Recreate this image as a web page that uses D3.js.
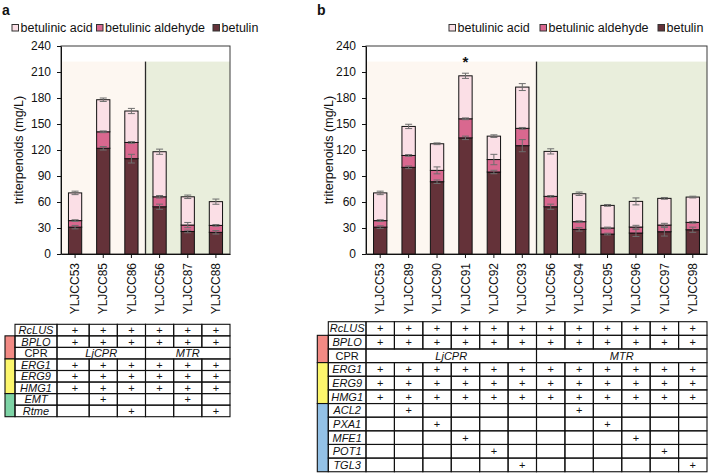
<!DOCTYPE html>
<html>
<head>
<meta charset="utf-8">
<script src="https://cdn.jsdelivr.net/npm/d3@7"></script>
<style>
  html, body { margin: 0; padding: 0; background: #ffffff; }
  svg { display: block; font-family: "Liberation Sans", Arial, sans-serif; }
</style>
</head>
<body>
<svg id="chart" width="709" height="476"></svg>
<script>
// ---------------- DATA ----------------
const seriesNames = ["betulinic acid", "betulinic aldehyde", "betulin"];
const yTicks = [0, 30, 60, 90, 120, 150, 180, 210, 240];
const shadeTop = 222;

// Panel a
const catsA = ["YLJCC53", "YLJCC85", "YLJCC86", "YLJCC56", "YLJCC87", "YLJCC88"];
const betulinA  = [31, 122, 110, 54.5, 26, 25];
const aldehydeA = [7.5, 19, 18.7, 11.5, 7.4, 8];
const acidA     = [32, 37, 36.3, 52, 32.6, 27.4];
const errBetulinA  = [2, 2, 5, 3, 1.5, 2];
const errAldehydeA = [1, 1, 1, 1.5, 3, 1];
const errAcidA     = [2, 2, 3, 3, 2, 3];
const groupSplitA = 3;

// Panel b
const catsB = ["YLJCC53", "YLJCC89", "YLJCC90", "YLJCC91", "YLJCC92", "YLJCC93",
               "YLJCC56", "YLJCC94", "YLJCC95", "YLJCC96", "YLJCC97", "YLJCC98"];
const betulinB  = [31, 100, 83.4, 134, 94.6, 125, 54.5, 28.4, 23, 24.2, 25.7, 28];
const aldehydeB = [7.5, 13.7, 13.1, 22, 14.4, 20, 12, 8.9, 7, 6.9, 7.7, 8.5];
const acidB     = [32, 33.5, 30.7, 49.6, 27, 47.6, 51.9, 32.2, 26.1, 29.6, 30.8, 29.2];
const errBetulinB  = [1.5, 1.5, 2, 2, 2, 7, 3, 2, 1, 4, 5, 3];
const errAldehydeB = [1, 1, 4, 1, 6, 1, 1, 1, 1, 2, 2, 1];
const errAcidB     = [2, 2.5, 1, 3, 1.5, 4, 3, 2, 1, 4, 1, 1];
const groupSplitB = 6;
const starIndexB = 3;

// Tables
const rowsA = ["RcLUS", "BPLO", "CPR", "ERG1", "ERG9", "HMG1", "EMT", "Rtme"];
const plusA = [
  [1,1,1,1,1,1],
  [1,1,1,1,1,1],
  null,
  [1,1,1,1,1,1],
  [1,1,1,1,1,1],
  [1,1,1,1,1,1],
  [0,1,0,0,1,0],
  [0,0,1,0,0,1]
];
const rowsB = ["RcLUS", "BPLO", "CPR", "ERG1", "ERG9", "HMG1", "ACL2", "PXA1", "MFE1", "POT1", "TGL3"];
const plusB = [
  [1,1,1,1,1,1,1,1,1,1,1,1],
  [1,1,1,1,1,1,1,1,1,1,1,1],
  null,
  [1,1,1,1,1,1,1,1,1,1,1,1],
  [1,1,1,1,1,1,1,1,1,1,1,1],
  [1,1,1,1,1,1,1,1,1,1,1,1],
  [0,1,0,0,0,0,0,1,0,0,0,0],
  [0,0,1,0,0,0,0,0,1,0,0,0],
  [0,0,0,1,0,0,0,0,0,1,0,0],
  [0,0,0,0,1,0,0,0,0,0,1,0],
  [0,0,0,0,0,1,0,0,0,0,0,1]
];
const cprLabels = ["LjCPR", "MTR"];
const stripRowsA = [[1, 2], [3, 5], [6, 7]];
const stripRowsB = [[1, 2], [3, 5], [6, 10]];

// ---------------- STYLE ----------------
const seriesColors = { acid: "#fbdfe6", ald: "#d9688f", bet: "#643239" };
const shadeColors = ["#fdf7f1", "#e9eedc"];
const stripColorsA = ["#f28a84", "#fcf66c", "#7dd3a5"];
const stripColorsB = ["#f28a84", "#fcf66c", "#93c1e6"];
const errColor = "#6e6e6e";

const svg = d3.select("#chart");
const y = d3.scaleLinear().domain([0, 240]).range([254, 46]);

function drawPanel(cfg) {
  const g = svg.append("g");
  const x = d3.scaleBand().domain(cfg.cats).range([cfg.x0, cfg.x1]).padding(0);
  const bw = x.bandwidth() * 0.47;
  const splitX = x(cfg.cats[cfg.split]);

  // backgrounds
  g.append("rect").attr("x", cfg.x0).attr("y", y(shadeTop))
    .attr("width", splitX - cfg.x0).attr("height", y(0) - y(shadeTop)).attr("fill", shadeColors[0]);
  g.append("rect").attr("x", splitX).attr("y", y(shadeTop))
    .attr("width", cfg.x1 - splitX).attr("height", y(0) - y(shadeTop)).attr("fill", shadeColors[1]);
  // frame
  g.append("rect").attr("x", cfg.x0).attr("y", y(240))
    .attr("width", cfg.x1 - cfg.x0).attr("height", y(0) - y(240))
    .attr("fill", "none").attr("stroke", "#3a3a3a").attr("stroke-width", 1);
  // divider
  g.append("line").attr("x1", splitX).attr("x2", splitX)
    .attr("y1", y(shadeTop)).attr("y2", y(0)).attr("stroke", "#2a2a2a").attr("stroke-width", 1.3);

  // stacked data
  const rows = cfg.cats.map((c, i) => ({
    cat: c, bet: cfg.bet[i], ald: cfg.ald[i], acid: cfg.acid[i],
    eBet: cfg.eBet[i], eAld: cfg.eAld[i], eAcid: cfg.eAcid[i]
  }));
  const stack = d3.stack().keys(["bet", "ald", "acid"])(rows);
  stack.forEach(layer => {
    g.append("g").selectAll("rect").data(layer).enter().append("rect")
      .attr("x", d => x(d.data.cat) + (x.bandwidth() - bw) / 2)
      .attr("y", d => y(d[1]))
      .attr("width", bw)
      .attr("height", d => y(d[0]) - y(d[1]))
      .attr("fill", seriesColors[layer.key])
      .attr("stroke", "#111").attr("stroke-width", 1);
  });
  // error bars
  const errKey = { bet: "eBet", ald: "eAld", acid: "eAcid" };
  stack.forEach(layer => {
    const eg = g.append("g").attr("stroke", errColor).attr("stroke-width", 1);
    layer.forEach(d => {
      const cx = x(d.data.cat) + x.bandwidth() / 2;
      const e = d.data[errKey[layer.key]];
      const top = d[1];
      eg.append("line").attr("x1", cx).attr("x2", cx).attr("y1", y(top + e)).attr("y2", y(top - e));
      eg.append("line").attr("x1", cx - 3.5).attr("x2", cx + 3.5).attr("y1", y(top + e)).attr("y2", y(top + e));
      eg.append("line").attr("x1", cx - 3.5).attr("x2", cx + 3.5).attr("y1", y(top - e)).attr("y2", y(top - e));
    });
  });

  // axes
  const ya = g.append("g").attr("transform", `translate(${cfg.x0},0)`)
    .call(d3.axisLeft(y).tickValues(yTicks).tickSize(4).tickSizeOuter(0).tickPadding(6));
  ya.selectAll("text").attr("font-size", 12).attr("fill", "#111")
    .attr("font-family", "Liberation Sans, Arial, sans-serif");
  ya.selectAll("line,path").attr("stroke", "#111");

  const xa = g.append("g").attr("transform", `translate(0,${y(0)})`)
    .call(d3.axisBottom(x).tickSize(4).tickSizeOuter(0));
  xa.selectAll("text").attr("transform", "rotate(-90)")
    .attr("x", -9).attr("y", 0).attr("dy", "0.35em")
    .style("text-anchor", "end").attr("font-size", 12).attr("fill", "#111")
    .attr("font-family", "Liberation Sans, Arial, sans-serif");
  xa.selectAll("line,path").attr("stroke", "#111");

  // y title
  g.append("text").attr("transform", `translate(${cfg.titleX},${(y(0) + y(240)) / 2}) rotate(-90)`)
    .attr("text-anchor", "middle").attr("dy", "0.35em")
    .attr("font-size", 12.5).attr("fill", "#111").text("triterpenoids (mg/L)");

  // panel label
  g.append("text").attr("x", cfg.labelX).attr("y", 15).attr("font-size", 14)
    .attr("font-weight", "bold").attr("fill", "#111").text(cfg.label);

  // legend
  const keys = ["acid", "ald", "bet"];
  cfg.legendX.forEach((lx, i) => {
    g.append("rect").attr("x", lx).attr("y", 24.5).attr("width", 6.5).attr("height", 6.5)
      .attr("fill", seriesColors[keys[i]]).attr("stroke", "#333").attr("stroke-width", 1);
    g.append("text").attr("x", lx + 8.5).attr("y", 32.3).attr("font-size", 12.5)
      .attr("fill", "#111").text(seriesNames[i]);
  });

  return x;
}

function drawTable(cfg, x) {
  const g = svg.append("g").attr("font-size", 11).attr("fill", "#111");
  const n = cfg.cats.length;
  const colL = i => (i === 0 ? cfg.labelX1 : x(cfg.cats[i]));
  const colR = i => x(cfg.cats[i]) + x.bandwidth();
  const rowY = r => cfg.top + r * cfg.rowH;
  const lineAttrs = sel => sel.attr("fill", "none").attr("stroke", "#111").attr("stroke-width", 1.1);

  // colour strips
  cfg.strips.forEach((s, i) => {
    lineAttrs(g.append("rect").attr("x", cfg.stripX0).attr("y", rowY(s[0]))
      .attr("width", cfg.stripX1 - cfg.stripX0).attr("height", rowY(s[1] + 1) - rowY(s[0])))
      .attr("fill", cfg.stripColors[i]);
  });

  cfg.rows.forEach((name, r) => {
    // label cell
    lineAttrs(g.append("rect").attr("x", cfg.stripX1).attr("y", rowY(r))
      .attr("width", cfg.labelX1 - cfg.stripX1).attr("height", cfg.rowH));
    g.append("text").attr("x", (cfg.stripX1 + cfg.labelX1) / 2).attr("y", rowY(r) + cfg.rowH / 2)
      .attr("dy", "0.36em").attr("text-anchor", "middle")
      .attr("font-style", name === "CPR" ? "normal" : "italic").text(name);

    if (cfg.plus[r] === null) {
      const half = n / 2;
      [[0, half - 1], [half, n - 1]].forEach((sp, k) => {
        const x0 = colL(sp[0]), x1 = colR(sp[1]);
        lineAttrs(g.append("rect").attr("x", x0).attr("y", rowY(r)).attr("width", x1 - x0).attr("height", cfg.rowH));
        g.append("text").attr("x", (x0 + x1) / 2).attr("y", rowY(r) + cfg.rowH / 2)
          .attr("dy", "0.36em").attr("text-anchor", "middle").attr("font-style", "italic").text(cprLabels[k]);
      });
    } else {
      cfg.plus[r].forEach((v, i) => {
        const x0 = colL(i), x1 = colR(i);
        lineAttrs(g.append("rect").attr("x", x0).attr("y", rowY(r)).attr("width", x1 - x0).attr("height", cfg.rowH));
        if (v) {
          g.append("text").attr("x", x(cfg.cats[i]) + x.bandwidth() / 2).attr("y", rowY(r) + cfg.rowH / 2)
            .attr("dy", "0.36em").attr("text-anchor", "middle").text("+");
        }
      });
    }
  });
}

const xA = drawPanel({
  cats: catsA, bet: betulinA, ald: aldehydeA, acid: acidA,
  eBet: errBetulinA, eAld: errAldehydeA, eAcid: errAcidA,
  x0: 61, x1: 230, split: groupSplitA, titleX: 19, label: "a", labelX: 2,
  legendX: [12, 96.5, 213]
});
const xB = drawPanel({
  cats: catsB, bet: betulinB, ald: aldehydeB, acid: acidB,
  eBet: errBetulinB, eAld: errAldehydeB, eAcid: errAcidB,
  x0: 366, x1: 707, split: groupSplitB, titleX: 329, label: "b", labelX: 317,
  legendX: [449, 540, 658]
});

// significance marker
svg.append("text")
  .attr("x", xB(catsB[starIndexB]) + xB.bandwidth() / 2)
  .attr("y", 67).attr("text-anchor", "middle")
  .attr("font-size", 15).attr("font-weight", "bold").attr("fill", "#111").text("*");

drawTable({
  cats: catsA, rows: rowsA, plus: plusA, strips: stripRowsA, stripColors: stripColorsA,
  top: 324.3, rowH: 11.55, stripX0: 5, stripX1: 15, labelX1: 57
}, xA);
drawTable({
  cats: catsB, rows: rowsB, plus: plusB, strips: stripRowsB, stripColors: stripColorsB,
  top: 321.7, rowH: 13.64, stripX0: 317.3, stripX1: 328.3, labelX1: 366
}, xB);
</script>
</body>
</html>
